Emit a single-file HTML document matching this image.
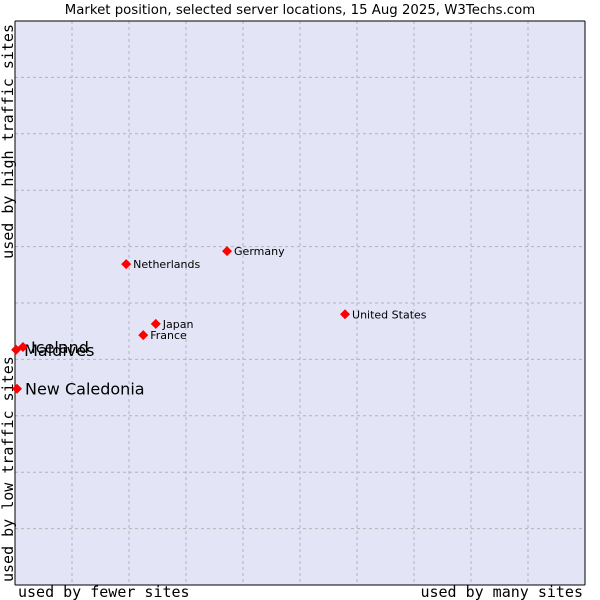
<!DOCTYPE html>
<html><head><meta charset="utf-8"><style>
body{margin:0;background:#fff;}
svg{display:block;font-family:"DejaVu Sans","Liberation Sans",sans-serif;}
</style></head><body>
<svg width="600" height="600" id="c">
<text x="300" y="14" text-anchor="middle" font-size="13.3" fill="#000">Market position, selected server locations, 15 Aug 2025, W3Techs.com</text>
<rect x="15" y="21" width="570" height="564" fill="#e3e5f7"/>
<g id="grid"></g>
<line x1="15" y1="21" x2="15" y2="585" stroke="#000"/>
<line x1="15" y1="585" x2="585" y2="585" stroke="#000"/>
<line x1="15" y1="21" x2="585" y2="21" stroke="#000"/>
<line x1="585" y1="21" x2="585" y2="585" stroke="#000"/>
<text x="18" y="597" font-family="DejaVu Sans Mono,Liberation Mono,monospace" font-size="15">used by fewer sites</text>
<text x="583" y="597" text-anchor="end" font-family="DejaVu Sans Mono,Liberation Mono,monospace" font-size="15">used by many sites</text>
<text transform="translate(13,582) rotate(-90)" font-family="DejaVu Sans Mono,Liberation Mono,monospace" font-size="15">used by low traffic sites</text>
<text transform="translate(13,24) rotate(-90)" text-anchor="end" font-family="DejaVu Sans Mono,Liberation Mono,monospace" font-size="15">used by high traffic sites</text>
<g id="pts"></g>
</svg>
<script>
const countries=["Maldives","Iceland","New Caledonia","France","Japan","Netherlands","Germany","United States"];
const xValues=[0.2,1.4,0.35,22.5,24.7,19.5,37.2,57.9];
const yValues=[41.7,42.2,34.8,44.3,46.3,56.9,59.2,48.0];
const bigLabel=[true,true,true,false,false,false,false,false];
const NS="http://www.w3.org/2000/svg";
const sx=v=>15+v*5.7, sy=v=>585-v*5.64;
const grid=document.getElementById('grid');
for(let i=1;i<10;i++){
 const v=document.createElementNS(NS,'line');
 v.setAttribute('x1',sx(i*10));v.setAttribute('x2',sx(i*10));v.setAttribute('y1',21);v.setAttribute('y2',585);
 v.setAttribute('stroke','#b4b4b4');v.setAttribute('stroke-dasharray','3,3');
 
 
 grid.appendChild(v);
 const h=document.createElementNS(NS,'line');
 h.setAttribute('y1',sy(i*10));h.setAttribute('y2',sy(i*10));h.setAttribute('x1',15);h.setAttribute('x2',585);
 h.setAttribute('stroke','#b4b4b4');h.setAttribute('stroke-dasharray','3,3');
 
 
 grid.appendChild(h);
}
const pts=document.getElementById('pts');
countries.forEach((c,i)=>{
 const x=sx(xValues[i]),y=sy(yValues[i]);
 const p=document.createElementNS(NS,'polygon');
 p.setAttribute('points',`${x},${y-5} ${x+5},${y} ${x},${y+5} ${x-5},${y}`);
 p.setAttribute('fill','#f00');
 
 
 pts.appendChild(p);
 const t=document.createElementNS(NS,'text');
 t.setAttribute('x',x+(bigLabel[i]?8:7));
 t.setAttribute('y',y+(bigLabel[i]?6:4));
 t.setAttribute('font-size',bigLabel[i]?16:11);
 t.setAttribute('fill','#000');
 t.textContent=c;
 
 
 pts.appendChild(t);
});
</script>
</body></html>
